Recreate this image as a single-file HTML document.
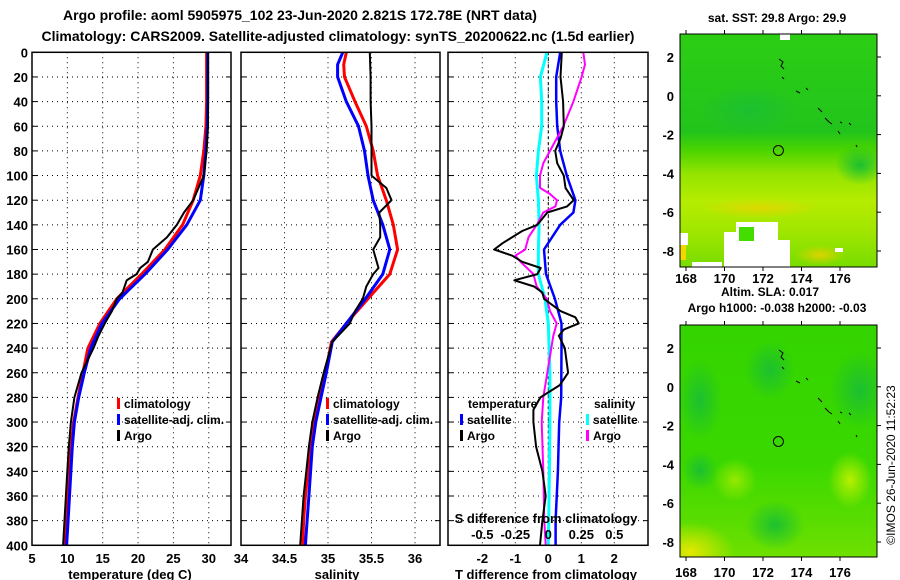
<!DOCTYPE html>
<html><head><meta charset="utf-8"><style>
html,body{margin:0;padding:0;background:#fff;}
svg{display:block;font-family:"Liberation Sans",Arial,sans-serif;font-weight:bold;}
text{fill:#000;}
</style></head><body>
<svg id="chart" width="900" height="580" viewBox="0 0 900 580" xmlns="http://www.w3.org/2000/svg">
<defs>
<linearGradient id="sstGrad" x1="0" y1="0" x2="0" y2="1">
<stop offset="0" stop-color="#2cce14"/><stop offset="0.42" stop-color="#22c41c"/><stop offset="0.5" stop-color="#4cd400"/><stop offset="0.6" stop-color="#94e400"/><stop offset="0.72" stop-color="#b6ec00"/><stop offset="0.85" stop-color="#a0e600"/><stop offset="1" stop-color="#78dc00"/>
</linearGradient>
<linearGradient id="slaGrad" x1="0" y1="0" x2="0" y2="1">
<stop offset="0" stop-color="#34d400"/><stop offset="0.6" stop-color="#3ad800"/><stop offset="1" stop-color="#6ee000"/>
</linearGradient>
<radialGradient id="yel"><stop offset="0" stop-color="#e4e800"/><stop offset="1" stop-color="#e4e800" stop-opacity="0"/></radialGradient>
<radialGradient id="yg"><stop offset="0" stop-color="#b8f000"/><stop offset="1" stop-color="#b8f000" stop-opacity="0"/></radialGradient>
<radialGradient id="dg"><stop offset="0" stop-color="#1cc030"/><stop offset="1" stop-color="#1cc030" stop-opacity="0"/></radialGradient>
<radialGradient id="or"><stop offset="0" stop-color="#f0d000"/><stop offset="1" stop-color="#f0d000" stop-opacity="0"/></radialGradient>
<clipPath id="clipM1"><rect x="680" y="34" width="197" height="233"/></clipPath>
<clipPath id="clipM2"><rect x="680" y="325" width="197" height="232"/></clipPath>
</defs>
<text x="300" y="20" font-size="14" text-anchor="middle">Argo profile: aoml 5905975_102 23-Jun-2020 2.821S 172.78E (NRT data)</text>
<text x="338" y="41" font-size="14" text-anchor="middle">Climatology: CARS2009. Satellite-adjusted climatology: synTS_20200622.nc (1.5d earlier)</text>
<g id="grid"></g>
<g id="marks"></g>
<g id="frames"></g>
<g id="labels"></g>

<g font-size="12">
<rect x="117" y="398" width="3" height="11" fill="#f00"/><text x="124" y="408">climatology</text>
<rect x="117" y="414" width="3" height="11" fill="#00f"/><text x="124" y="424">satellite-adj. clim.</text>
<rect x="117" y="430" width="3" height="11" fill="#000"/><text x="124" y="440">Argo</text>
</g>
<g font-size="12">
<rect x="326" y="398" width="3" height="11" fill="#f00"/><text x="333" y="408">climatology</text>
<rect x="326" y="414" width="3" height="11" fill="#00f"/><text x="333" y="424">satellite-adj. clim.</text>
<rect x="326" y="430" width="3" height="11" fill="#000"/><text x="333" y="440">Argo</text>
</g>
<g font-size="12">
<text x="468" y="408">temperature</text>
<rect x="460" y="414" width="3" height="11" fill="#00f"/><text x="467" y="424">satellite</text>
<rect x="460" y="430" width="3" height="11" fill="#000"/><text x="467" y="440">Argo</text>
<text x="594" y="408">salinity</text>
<rect x="586" y="414" width="3" height="11" fill="#0ff"/><text x="593" y="424">satellite</text>
<rect x="586" y="430" width="3" height="11" fill="#f0f"/><text x="593" y="440">Argo</text>
</g>

<text x="777" y="22" font-size="12" text-anchor="middle">sat. SST: 29.8 Argo: 29.9</text>
<g clip-path="url(#clipM1)">
<rect x="680" y="34" width="197" height="233" fill="url(#sstGrad)"/>
<ellipse cx="750" cy="110" rx="50" ry="25" fill="url(#dg)"/>
<ellipse cx="860" cy="165" rx="25" ry="20" fill="url(#dg)"/>
<ellipse cx="760" cy="208" rx="60" ry="10" fill="url(#or)" opacity="0.7"/>
<ellipse cx="820" cy="255" rx="25" ry="10" fill="url(#or)" opacity="0.8"/>
<rect x="736" y="222" width="42" height="45" fill="#fff"/>
<rect x="724" y="232" width="14" height="35" fill="#fff"/>
<rect x="778" y="240" width="12" height="27" fill="#fff"/>
<rect x="739" y="227" width="15" height="14" fill="#44dd00"/>
<rect x="680" y="233" width="8" height="12" fill="#fff"/>
<rect x="692" y="262" width="30" height="5" fill="#fff"/>
<rect x="780" y="34" width="10" height="6" fill="#fff"/>
<rect x="835" y="248" width="8" height="4" fill="#fff"/>
<rect x="680" y="245" width="6" height="15" fill="#f0d800"/>
</g>
<rect x="680" y="34" width="197" height="233" fill="none" stroke="#000" stroke-width="1"/>
<g stroke="#000" stroke-width="1" fill="none">
<path d="M779 59 l4 3 -2 4 3 3"/><path d="M782 77 l2 2"/><path d="M796 91 l4 2"/><path d="M806 88 l2 2"/><path d="M818 108 l4 4"/><path d="M825 118 l4 4 3 2"/><path d="M838 131 l2 3"/><path d="M840 122 l2 1"/><path d="M849 123 l2 2"/><path d="M856 145 l1 2"/>
</g>
<circle cx="778.4" cy="150.5" r="5" fill="none" stroke="#000" stroke-width="1"/>

<text x="770" y="296" font-size="12" text-anchor="middle">Altim. SLA: 0.017</text>
<text x="777" y="312" font-size="12" text-anchor="middle">Argo h1000: -0.038 h2000: -0.03</text>
<g clip-path="url(#clipM2)">
<rect x="680" y="325" width="197" height="232" fill="url(#slaGrad)"/>
<ellipse cx="700" cy="400" rx="22" ry="40" fill="url(#dg)"/>
<ellipse cx="770" cy="370" rx="25" ry="30" fill="url(#dg)"/>
<ellipse cx="860" cy="390" rx="30" ry="40" fill="url(#dg)"/>
<ellipse cx="775" cy="525" rx="30" ry="25" fill="url(#dg)"/>
<ellipse cx="700" cy="470" rx="18" ry="20" fill="url(#dg)"/>
<ellipse cx="850" cy="480" rx="22" ry="28" fill="url(#yg)"/>
<ellipse cx="735" cy="480" rx="22" ry="22" fill="url(#yg)" opacity="0.7"/>
<ellipse cx="690" cy="552" rx="45" ry="30" fill="url(#yel)"/>
</g>
<rect x="680" y="325" width="197" height="232" fill="none" stroke="#000" stroke-width="1"/>
<g stroke="#000" stroke-width="1" fill="none">
<path d="M779 350 l4 3 -2 4 3 3"/><path d="M782 367 l2 2"/><path d="M796 381 l4 2"/><path d="M806 378 l2 2"/><path d="M818 398 l4 4"/><path d="M825 408 l4 4 3 2"/><path d="M838 421 l2 3"/><path d="M840 412 l2 1"/><path d="M849 413 l2 2"/><path d="M856 435 l1 2"/>
</g>
<circle cx="778.4" cy="441.5" r="5" fill="none" stroke="#000" stroke-width="1"/>
<g id="mapticks"></g>
<text transform="translate(895,465) rotate(-90)" font-size="12" font-weight="normal" text-anchor="middle">©IMOS 26-Jun-2020 11:52:23</text>
</svg>
<script>
const depthTicks = [0,20,40,60,80,100,120,140,160,180,200,220,240,260,280,300,320,340,360,380,400];
const tempTicks = [5,10,15,20,25,30];
const salTicks = [34,34.5,35,35.5,36];
const tdiffTicks = [-2,-1,0,1,2];
const sdiffTicks = [-0.5,-0.25,0,0.25,0.5];
const sdiffTickLabels = ["-0.5","-0.25","0","0.25","0.5"];
const lonTicks = [168,170,172,174,176];
const latTicks = [2,0,-2,-4,-6,-8];

const climDepths = [0,20,40,60,80,100,120,140,160,180,200,220,240,260,280,300,320,340,360,380,400];
const climTemp = [29.7,29.7,29.7,29.6,29.3,28.8,27.8,26.3,23.8,20.5,17.0,14.6,12.9,12.2,11.5,10.9,10.5,10.3,10.1,9.9,9.7];
const satTemp = [29.85,29.85,29.85,29.8,29.6,29.3,28.8,26.9,24.2,21.0,17.4,14.9,13.3,12.4,11.6,11.0,10.7,10.5,10.3,10.1,9.9];
const argoDepths = [0,20,40,60,80,100,120,130,140,150,160,170,175,180,185,195,200,210,220,230,240,260,280,300,320,340,360,380,400];
const argoTemp = [29.9,29.9,29.9,29.9,29.7,29.3,27.8,26.5,25.5,24.1,22.1,21.4,20.3,19.8,18.4,17.8,17.0,16.3,15.3,14.4,13.7,12.0,11.0,10.5,10.2,10.0,9.8,9.6,9.4];

const salClimDepths = [0,10,20,40,60,80,100,120,140,160,180,200,220,235,260,280,300,320,340,360,380,400];
const climSal = [35.21,35.18,35.19,35.31,35.44,35.52,35.57,35.67,35.75,35.80,35.71,35.46,35.21,35.04,34.97,34.90,34.84,34.80,34.77,34.74,34.72,34.71];
const satSal = [35.17,35.11,35.11,35.21,35.35,35.42,35.46,35.52,35.63,35.71,35.63,35.43,35.21,35.05,34.98,34.92,34.86,34.82,34.80,34.78,34.76,34.74];
const argoSalDepths = [0,20,40,60,80,100,110,120,130,140,150,160,175,180,190,200,210,220,235,260,280,300,320,340,360,380,400];
const argoSal = [35.48,35.49,35.49,35.50,35.50,35.50,35.67,35.73,35.59,35.60,35.60,35.52,35.58,35.52,35.44,35.40,35.31,35.25,35.05,34.95,34.88,34.82,34.78,34.75,34.72,34.70,34.68];

const satTdiffDepths = [0,20,40,60,80,100,120,130,140,160,180,200,220,240,280,300,340,380,400];
const satTdiff = [0.36,0.24,0.24,0.27,0.36,0.56,0.82,0.76,0.36,-0.13,-0.07,0.2,0.4,0.4,0.39,0.33,0.29,0.22,0.22];
const argoTdiffDepths = [0,20,40,60,70,80,90,100,110,120,125,130,140,145,155,160,165,170,175,180,185,190,195,200,210,215,220,225,230,240,260,270,280,290,300,320,340,360,380,400];
const argoTdiff = [0.41,0.37,0.45,0.47,0.37,0.21,0.27,0.47,0.52,0.77,0.57,-0.03,-0.33,-0.79,-1.39,-1.64,-1.09,-0.79,-0.23,-0.33,-1.03,-0.43,-0.18,-0.13,0.37,0.82,0.92,0.47,0.32,0.5,0.6,0.35,-0.24,-0.45,-0.45,-0.37,-0.18,-0.08,-0.18,-0.25];
const satSdiffDepths = [0,20,40,60,80,100,120,140,160,180,200,220,260,300,340,400];
const satSdiff = [-0.01,-0.06,-0.05,-0.05,-0.075,-0.09,-0.075,-0.07,-0.075,-0.075,-0.025,0,0.012,0.012,0.008,0];
const argoSdiffDepths = [0,10,20,40,60,80,90,100,110,115,120,125,130,140,150,160,165,170,180,190,200,210,220,230,280,300,340,380,400];
const argoSdiff = [0.265,0.278,0.252,0.19,0.114,0.013,-0.038,-0.063,-0.063,0.013,0.066,0.054,-0.038,-0.087,-0.15,-0.175,-0.25,-0.21,-0.113,-0.088,-0.012,0.013,0.064,0.038,-0.038,-0.05,-0.038,-0.03,-0.02];

const NS = "http://www.w3.org/2000/svg";
const Y0 = 52.3, YS = 1.2325;
const yD = d => Y0 + d*YS;
const xT = t => 32 + (t-5)*7.07;
const xS = s => 241 + (s-34)*87;
const xTD = v => 548.3 + v*33;
const xSD = v => xTD(v*4);
const lonX = lon => 686 + (lon-168)*19.25;
const latY1 = lat => 57 + (2-lat)*19.4;
const latY2 = lat => 348 + (2-lat)*19.4;
const panels = [{x0:32,x1:231},{x0:241,x1:440},{x0:448,x1:648}];
const PB = yD(400);

function el(tag, attrs, parent){const e=document.createElementNS(NS,tag);for(const k in attrs)e.setAttribute(k,attrs[k]);parent.appendChild(e);return e;}
const grid=document.getElementById('grid'), marks=document.getElementById('marks'), frames=document.getElementById('frames'), labels=document.getElementById('labels');

panels.forEach((p,i)=>{
  depthTicks.forEach(d=>{
    if(d===0||d===400) return;
    const g=el('line',{x1:p.x0,x2:p.x1,y1:yD(d),y2:yD(d),stroke:'#000','stroke-width':1,'stroke-dasharray':'1,4'},grid);
    
    
    const t1=el('line',{x1:p.x0,x2:p.x0+5,y1:yD(d),y2:yD(d),stroke:'#000'},frames);
    
    
    const t2=el('line',{x1:p.x1-5,x2:p.x1,y1:yD(d),y2:yD(d),stroke:'#000'},frames);
    
    
  });
  const r=el('rect',{x:p.x0,y:Y0,width:p.x1-p.x0,height:PB-Y0,fill:'none',stroke:'#000','stroke-width':1.5},frames);
  
  
});
function vgrid(ticks, sx, p, dash){
  ticks.forEach(t=>{const x=sx(t); if(x<=p.x0+1||x>=p.x1-1) return;
    const g=el('line',{x1:x,x2:x,y1:Y0,y2:PB,stroke:'#000','stroke-width':1,'stroke-dasharray':dash},grid);
    
    
  });
}
vgrid(tempTicks,xT,panels[0],'1,4');
vgrid(salTicks,xS,panels[1],'1,4');
vgrid(tdiffTicks,xTD,panels[2],'1,4');

depthTicks.forEach(d=>{
  const t=el('text',{x:28,y:yD(d)+5,'font-size':13,'text-anchor':'end'},labels);
  t.textContent=d;
  
  
});
function xlabels(ticks, sx, y, fs, name, txt){
  ticks.forEach((v,i)=>{const t=el('text',{x:sx(v),y:y,'font-size':fs,'text-anchor':'middle'},labels);
    t.textContent=txt?txt[i]:v;
    
    
  });
}
xlabels([5,10,15,20,25,30],xT,563,13,'temperature-tick-label');
xlabels([34,34.5,35,35.5,36],xS,563,13,'salinity-tick-label');
xlabels(tdiffTicks,xTD,563,13,'tdiff-tick-label');
xlabels(sdiffTicks,xSD,539,13,'sdiff-tick-label',sdiffTickLabels);
[[130,'temperature (deg C)','temperature-axis-title'],[337,'salinity','salinity-axis-title'],[546,'T difference from climatology','tdiff-axis-title']].forEach(a=>{
  const t=el('text',{x:a[0],y:579,'font-size':13,'text-anchor':'middle'},labels);
  t.textContent=a[1];
  
  
});
{const t=el('text',{x:546,y:523,'font-size':13,'text-anchor':'middle'},labels);
 t.textContent='S difference from climatology';
 
 }
{const z=el('line',{x1:xTD(0),x2:xTD(0),y1:Y0,y2:PB,stroke:'#000','stroke-width':1,'stroke-dasharray':'3,3'},grid);
 
 }

function line(depths, vals, sx, color, w, name){
  const pts=depths.map((d,i)=>sx(vals[i]).toFixed(1)+','+yD(d).toFixed(1)).join(' ');
  const p=el('polyline',{points:pts,fill:'none',stroke:color,'stroke-width':w,'stroke-linejoin':'round'},marks);
  
  
}
line(climDepths,climTemp,xT,'#f00',3,'climatology-temperature-line');
line(climDepths,satTemp,xT,'#00f',3,'satellite-temperature-line');
line(argoDepths,argoTemp,xT,'#000',2,'argo-temperature-line');
line(salClimDepths,climSal,xS,'#f00',3,'climatology-salinity-line');
line(salClimDepths,satSal,xS,'#00f',3,'satellite-salinity-line');
line(argoSalDepths,argoSal,xS,'#000',2,'argo-salinity-line');
line(satSdiffDepths,satSdiff,xSD,'#0ff',3,'satellite-sdiff-line');
line(satTdiffDepths,satTdiff,xTD,'#00f',2.5,'satellite-tdiff-line');
line(argoSdiffDepths,argoSdiff,xSD,'#f0f',2,'argo-sdiff-line');
line(argoTdiffDepths,argoTdiff,xTD,'#000',2,'argo-tdiff-line');

const mt=document.getElementById('mapticks');
[[latY1,283,34,267],[latY2,577,325,557]].forEach((m,mi)=>{
  lonTicks.forEach(l=>{
    const t=el('text',{x:lonX(l),y:m[1],'font-size':13,'text-anchor':'middle'},mt);
    t.textContent=l;
    
    
    el('line',{x1:lonX(l),x2:lonX(l),y1:m[2]-4,y2:m[2],stroke:'#000'},mt);
    el('line',{x1:lonX(l),x2:lonX(l),y1:m[3],y2:m[3]+4,stroke:'#000'},mt);
  });
  latTicks.forEach(la=>{
    const y=m[0](la);
    const t=el('text',{x:674,y:y+5,'font-size':13,'text-anchor':'end'},mt);
    t.textContent=la;
    
    
    el('line',{x1:877,x2:881,y1:y,y2:y,stroke:'#000'},mt);
  });
});
</script>
</body></html>
